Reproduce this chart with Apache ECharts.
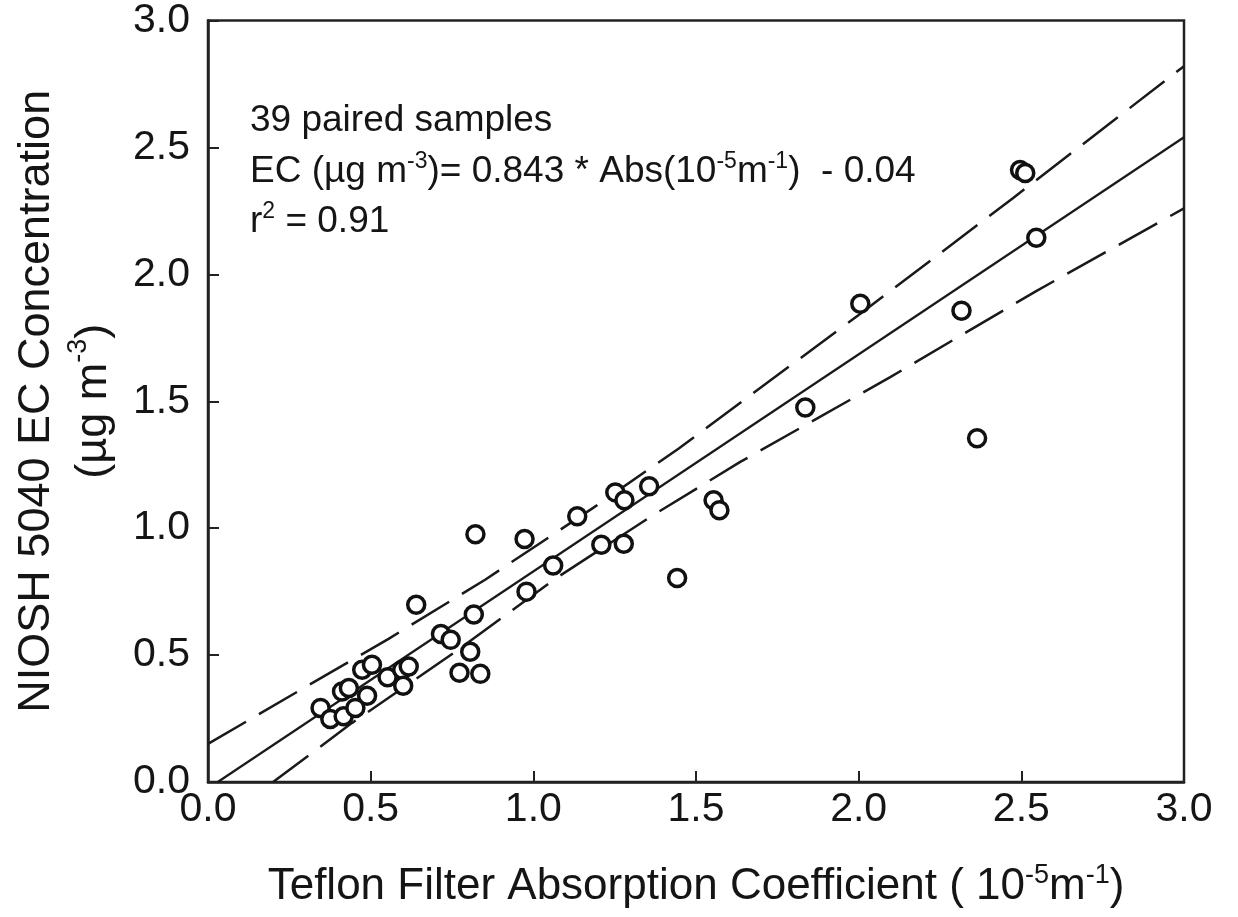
<!DOCTYPE html>
<html>
<head>
<meta charset="utf-8">
<script src="https://cdn.jsdelivr.net/npm/echarts@6/dist/echarts.min.js"></script>
<style>
html,body{margin:0;padding:0;background:#fff;}
#chart{width:1238px;height:917px;}
</style>
</head>
<body>
<div id="chart"></div>
<script>
// Measured samples: Teflon filter absorption (10^-5 m^-1) vs NIOSH 5040 EC (µg m^-3)
const absCoef = [2.496,2.512,2.546,2.316,2.005,1.836,2.364,1.356,1.252,1.28,1.135,1.554,1.572,1.209,1.278,0.973,0.822,1.061,0.979,1.442,0.640,0.817,0.716,0.746,0.806,0.773,0.837,
  0.474,0.504,0.552,0.597,0.617,0.600,0.412,0.433,0.489,0.346,0.376,0.417,0.453];
const ecConc = [2.411,2.399,2.144,1.857,1.884,1.475,1.354,1.165,1.141,1.11,1.047,1.110,1.071,0.935,0.939,0.957,0.976,0.853,0.750,0.804,0.698,0.660,0.583,0.560,0.513,0.430,0.426,
  0.442,0.462,0.413,0.442,0.455,0.379,0.357,0.370,0.340,0.292,0.248,0.259,0.292];

// Regression line and band
const fitX = [0.03, 3.0];
const fitY = [0.0, 2.54];
const upperX = [0.0, 0.294, 0.555, 0.853, 1.185, 1.446, 2.0, 2.475, 3.0];
const upperY = [0.15, 0.370, 0.564, 0.798, 1.081, 1.313, 1.84, 2.301, 2.82];
const lowerX = [0.2, 0.443, 0.766, 1.062, 1.359, 1.636, 2.097, 2.547, 3.0];
const lowerY = [0.0, 0.233, 0.518, 0.796, 1.044, 1.261, 1.595, 1.935, 2.26];

const axisMin = 0, axisMax = 3.0, axisStep = 0.5;

const annoLine1 = '39 paired samples';
const annoLine2 = 'EC (µg m{sup|-3})= 0.843 * Abs(10{sup|-5}m{sup|-1})  - 0.04';
const annoLine3 = 'r{sup|2} = 0.91';
const xTitle = 'Teflon Filter Absorption Coefficient ( 10{sup|-5}m{sup|-1})';
const yTitle = 'NIOSH 5040 EC Concentration\n(µg m{sup|-3})';

const FONT = '"Liberation Sans", Arial, Helvetica, sans-serif';
const INK = '#151515';

const zip = (xs, ys) => xs.map((x, i) => [x, ys[i]]);

const chart = echarts.init(document.getElementById('chart'), null, {renderer: 'canvas'});

const supRich = (size) => ({
  sup: {fontSize: size, fontFamily: FONT, color: INK, verticalAlign: 'top', lineHeight: size}
});
const annoRich = {sup: {fontSize: 23, fontFamily: FONT, fill: INK, verticalAlign: 'top', lineHeight: 23}};

const option = {
  backgroundColor: '#fff',
  animation: false,
  grid: {left: 207, right: 54, top: 18, bottom: 135, show: true, borderColor: '#222', borderWidth: 2.5, backgroundColor: 'transparent'},
  xAxis: {
    type: 'value', min: axisMin, max: axisMax, interval: axisStep,
    axisLine: {show: true, lineStyle: {color: '#222', width: 2.5}},
    axisTick: {show: true, inside: true, length: 11, lineStyle: {color: '#222', width: 2}},
    splitLine: {show: false},
    axisLabel: {fontSize: 41, fontFamily: FONT, color: INK, margin: 7, formatter: v => v.toFixed(1)},
    name: xTitle, nameLocation: 'middle', nameGap: 80,
    nameTextStyle: {fontSize: 44, fontFamily: FONT, color: INK, lineHeight: 50, rich: supRich(27)}
  },
  yAxis: {
    type: 'value', min: axisMin, max: axisMax, interval: axisStep,
    axisLine: {show: true, lineStyle: {color: '#222', width: 2.5}},
    axisTick: {show: true, inside: true, length: 11, lineStyle: {color: '#222', width: 2}},
    splitLine: {show: false},
    axisLabel: {fontSize: 41, fontFamily: FONT, color: INK, margin: 18, formatter: v => v.toFixed(1)},
    name: yTitle, nameLocation: 'middle', nameGap: 86,
    nameTextStyle: {fontSize: 45, fontFamily: FONT, color: INK, lineHeight: 57, align: 'center', rich: supRich(27)}
  },
  series: [
    {type: 'line', data: zip(fitX, fitY), showSymbol: false, symbol: 'none', z: 2,
     lineStyle: {color: '#1a1a1a', width: 2.2}},
    {type: 'line', data: zip(upperX, upperY), showSymbol: false, symbol: 'none', z: 2,
     lineStyle: {color: '#1a1a1a', width: 2.5, type: [44, 15]}},
    {type: 'line', data: zip(lowerX, lowerY), showSymbol: false, symbol: 'none', z: 2,
     lineStyle: {color: '#1a1a1a', width: 2.5, type: [44, 15]}},
    {type: 'scatter', data: zip(absCoef, ecConc), symbol: 'circle', symbolSize: 17, z: 5,
     itemStyle: {color: '#fff', borderColor: '#111', borderWidth: 3.5, opacity: 1}}
  ],
  graphic: [
    {type: 'text', x: 250, y: 121, z: 10, style: {text: annoLine1, fontSize: 37, fontFamily: FONT, fill: INK, align: 'left', verticalAlign: 'middle'}},
    {type: 'text', x: 250, y: 172, z: 10, style: {text: annoLine2, fontSize: 37, fontFamily: FONT, fill: INK, align: 'left', verticalAlign: 'middle', lineHeight: 44, rich: annoRich}},
    {type: 'text', x: 250, y: 222, z: 10, style: {text: annoLine3, fontSize: 37, fontFamily: FONT, fill: INK, align: 'left', verticalAlign: 'middle', lineHeight: 44, rich: annoRich}}
  ]
};
chart.setOption(option);
</script>
</body>
</html>
